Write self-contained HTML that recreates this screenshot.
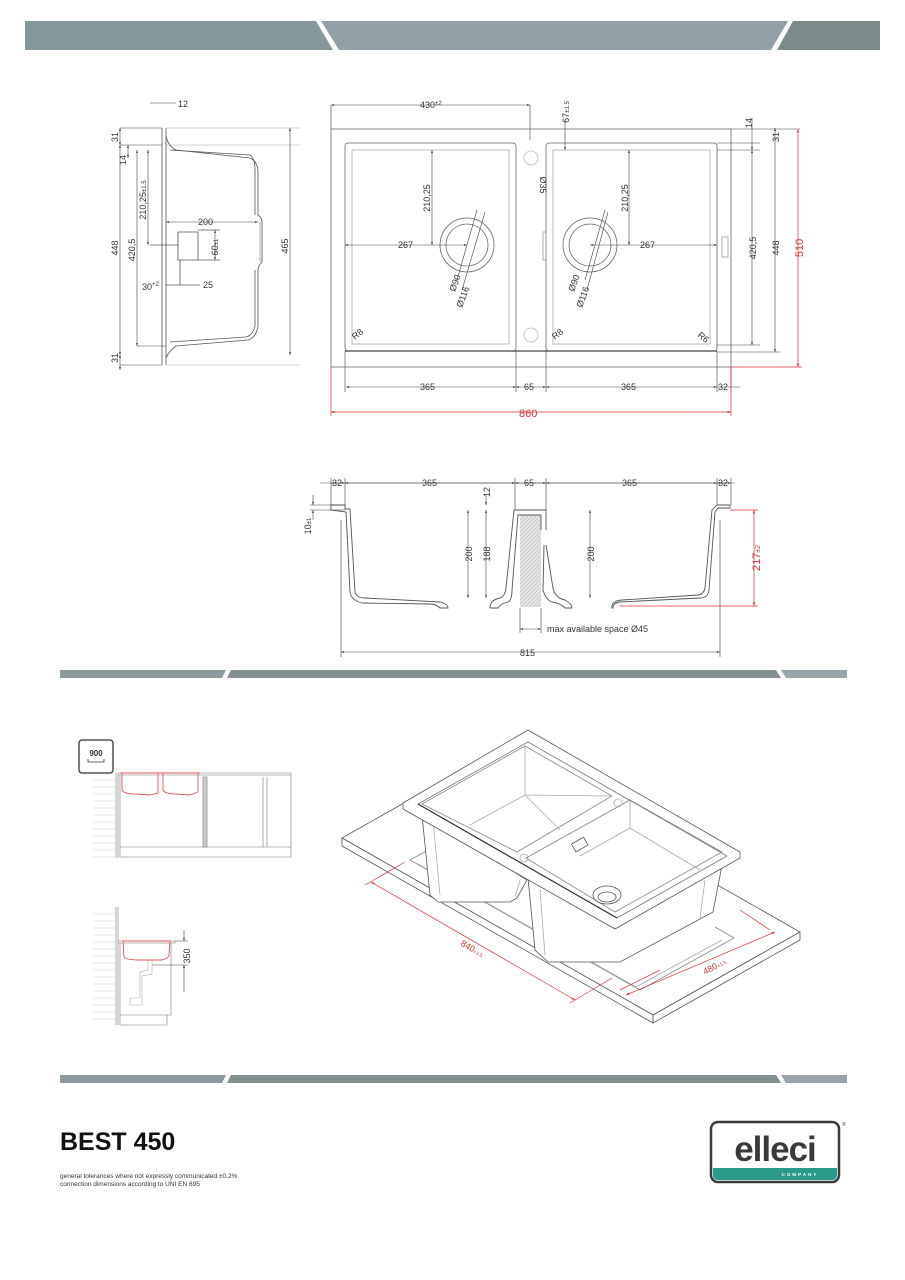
<!DOCTYPE html>
<html><head><meta charset="utf-8"><style>
html,body{margin:0;padding:0;background:#fff}
svg{display:block}
text{font-family:"Liberation Sans",sans-serif;fill:#333}
</style></head><body>
<svg width="905" height="1280" viewBox="0 0 905 1280" xmlns="http://www.w3.org/2000/svg">
<defs>
<marker id="a" viewBox="0 0 6 6" refX="6" refY="3" markerWidth="5" markerHeight="5" orient="auto-start-reverse"><path d="M0,1 L6,3 L0,5z" fill="#444"/></marker>
<marker id="r" viewBox="0 0 6 6" refX="6" refY="3" markerWidth="5" markerHeight="5" orient="auto-start-reverse"><path d="M0,1 L6,3 L0,5z" fill="#d33"/></marker>
<pattern id="h" width="4" height="4" patternUnits="userSpaceOnUse"><rect width="4" height="4" fill="#e4e4e4"/><path d="M0,4 L4,0" stroke="#bbb" stroke-width=".6"/></pattern>
</defs>

<polygon points="25,21 316,21 333,50 25,50" fill="#84979b"/>
<polygon points="321,21 788,21 771,50 339,50" fill="#929fa6"/>
<polygon points="793,21 880,21 880,50 777,50" fill="#7a8b8a"/>

<polygon points="60,670 226,670 222,678 60,678" fill="#8c999d"/>
<polygon points="231,670 776,670 781,678 227,678" fill="#818f91"/>
<polygon points="781,670 847,670 847,678 786,678" fill="#98a4aa"/>
<polygon points="60,1075 226,1075 222,1083 60,1083" fill="#8c999d"/>
<polygon points="231,1075 776,1075 781,1083 227,1083" fill="#818f91"/>
<polygon points="781,1075 847,1075 847,1083 786,1083" fill="#98a4aa"/>

<g fill="none" stroke="#555" stroke-width="0.8">
<path d="M162,128 L162,365 M166,128 L166,365"/>
<path d="M166,136 Q168,146 176,150 L250,158 Q258,162 258,172 L258,215 Q262,218 262,222 L262,262 Q258,266 258,270 L258,326 Q256,338 248,340 L176,346 Q168,352 166,358"/>
<path d="M170,150 L250,155 Q255,158 255,170 L255,215 M255,270 L255,326 Q253,335 246,337 L170,342"/>
<path d="M260,222 L260,262" stroke="#999"/>
<path d="M166,128 L300,128 M166,145 L300,145 M166,365 L300,365" stroke="#aaa" stroke-width="0.5"/>
<path d="M178,232 L198,232 L198,260 L178,260 Z M150,245 L178,245 M198,230 L220,230 M198,260 L220,260 M180,260 L180,285 M166,285 L200,285"/>
<g stroke="#444" stroke-width="0.6">
<line x1="120" y1="128" x2="120" y2="145" marker-start="url(#a)" marker-end="url(#a)"/>
<line x1="120" y1="145" x2="120" y2="355" marker-start="url(#a)" marker-end="url(#a)"/>
<line x1="120" y1="355" x2="120" y2="370" marker-start="url(#a)" marker-end="url(#a)"/>
<line x1="128" y1="145" x2="128" y2="158" marker-start="url(#a)" marker-end="url(#a)"/>
<line x1="137" y1="150" x2="137" y2="346" marker-start="url(#a)" marker-end="url(#a)"/>
<line x1="148" y1="150" x2="148" y2="245" marker-start="url(#a)" marker-end="url(#a)"/>
<line x1="166" y1="222" x2="258" y2="222" marker-start="url(#a)" marker-end="url(#a)"/>
<line x1="215" y1="230" x2="215" y2="260" marker-start="url(#a)" marker-end="url(#a)"/>
<line x1="290" y1="128" x2="290" y2="355" marker-start="url(#a)" marker-end="url(#a)"/>
<line x1="150" y1="103" x2="176" y2="103"/>
<path d="M120,128 L162,128 M120,145 L162,145 M120,365 L162,365 M137,346 L166,346"/>
</g>
</g>
<g font-size="9">
<text x="178" y="107">12</text>
<text transform="translate(118,137) rotate(-90)" text-anchor="middle">31</text>
<text transform="translate(126,160) rotate(-90)" text-anchor="middle">14</text>
<text transform="translate(118,248) rotate(-90)" text-anchor="middle">448</text>
<text transform="translate(135,250) rotate(-90)" text-anchor="middle">420,5</text>
<text transform="translate(146,200) rotate(-90)" text-anchor="middle">210,25<tspan font-size="6">±1.5</tspan></text>
<text x="198" y="225">200</text>
<text transform="translate(218,247) rotate(-90)" text-anchor="middle">60<tspan font-size="6">±1</tspan></text>
<text x="142" y="290">30<tspan font-size="6" dy="-4">+2</tspan></text>
<text x="203" y="288">25</text>
<text transform="translate(118,358) rotate(-90)" text-anchor="middle">31</text>
<text transform="translate(288,246) rotate(-90)" text-anchor="middle">465</text>
</g>

<g fill="none" stroke="#666" stroke-width="0.8">
<rect x="331" y="129" width="400" height="238"/>
<rect x="345" y="143" width="171" height="208" rx="3"/>
<rect x="352" y="150" width="157" height="194" stroke="#aaa"/>
<rect x="546" y="143" width="171" height="208" rx="3"/>
<rect x="553" y="150" width="157" height="194" stroke="#aaa"/>
<circle cx="467" cy="245" r="27"/><circle cx="467" cy="245" r="21"/>
<circle cx="590" cy="245" r="27"/><circle cx="590" cy="245" r="21"/>
<circle cx="531" cy="158" r="7" stroke="#bbb"/><circle cx="531" cy="335" r="7" stroke="#bbb"/>
<rect x="543" y="232" width="3" height="28" stroke="#999"/>
<rect x="722" y="237" width="6" height="20" stroke="#999"/>
<line x1="345" y1="351" x2="717" y2="351" stroke="#444" stroke-width="1.2"/>
</g>
<g stroke="#444" stroke-width="0.6" fill="none">
<line x1="331" y1="105" x2="530" y2="105" marker-start="url(#a)" marker-end="url(#a)"/>
<path d="M331,105 L331,129 M530,105 L530,140"/>
<line x1="432" y1="150" x2="432" y2="245" marker-start="url(#a)" marker-end="url(#a)"/>
<line x1="345" y1="245" x2="467" y2="245" marker-start="url(#a)" marker-end="url(#a)"/>
<line x1="629" y1="150" x2="629" y2="245" marker-start="url(#a)" marker-end="url(#a)"/>
<line x1="590" y1="245" x2="717" y2="245" marker-start="url(#a)" marker-end="url(#a)"/>
<line x1="477" y1="210" x2="457" y2="280"/><line x1="485" y1="212" x2="462" y2="290"/>
<line x1="605" y1="210" x2="585" y2="280"/><line x1="608" y1="212" x2="587" y2="290"/>
<line x1="565" y1="150" x2="565" y2="120" marker-start="url(#a)"/>
<line x1="346" y1="387" x2="516" y2="387" marker-start="url(#a)" marker-end="url(#a)"/>
<line x1="516" y1="387" x2="546" y2="387" marker-start="url(#a)" marker-end="url(#a)"/>
<line x1="546" y1="387" x2="717" y2="387" marker-start="url(#a)" marker-end="url(#a)"/>
<line x1="717" y1="387" x2="740" y2="387"/>
<path d="M345,351 L345,392 M516,351 L516,392 M546,351 L546,392 M717,351 L717,392 M731,367 L731,392"/>
<line x1="752" y1="150" x2="752" y2="345" marker-start="url(#a)" marker-end="url(#a)"/>
<line x1="752" y1="118" x2="752" y2="150" marker-end="url(#a)"/>
<line x1="775" y1="128" x2="775" y2="352" marker-start="url(#a)" marker-end="url(#a)"/>
<path d="M717,150 L760,150 M717,143 L760,143 M731,129 L800,129 M717,352 L780,352 M717,345 L760,345"/>
</g>
<g stroke="#d33" stroke-width="0.7" fill="none">
<line x1="331" y1="412" x2="731" y2="412" marker-start="url(#r)" marker-end="url(#r)"/>
<path d="M331,367 L331,416 M731,367 L731,416 M731,367 L802,367"/>
<line x1="798" y1="129" x2="798" y2="367" marker-start="url(#r)" marker-end="url(#r)"/>
</g>
<g font-size="9">
<text x="420" y="108">430<tspan font-size="6" dy="-3">±2</tspan></text>
<text transform="translate(569,112) rotate(-90)" text-anchor="middle">67<tspan font-size="6">±1.5</tspan></text>
<text transform="translate(540,185) rotate(90)" text-anchor="middle">Ø35</text>
<text transform="translate(430,198) rotate(-90)" text-anchor="middle">210,25</text>
<text transform="translate(628,198) rotate(-90)" text-anchor="middle">210,25</text>
<text x="398" y="248">267</text><text x="640" y="248">267</text>
<text transform="translate(455,292) rotate(-70)">Ø90</text>
<text transform="translate(462,308) rotate(-70)">Ø116</text>
<text transform="translate(574,292) rotate(-70)">Ø90</text>
<text transform="translate(582,308) rotate(-70)">Ø116</text>
<text transform="translate(355,340) rotate(-40)">R8</text>
<text transform="translate(555,340) rotate(-40)">R8</text>
<text transform="translate(697,336) rotate(40)">R6</text>
<text x="420" y="390">365</text><text x="524" y="390">65</text><text x="621" y="390">365</text><text x="718" y="390">32</text>
<text transform="translate(752,123) rotate(-90)" text-anchor="middle">14</text>
<text transform="translate(779,137) rotate(-90)" text-anchor="middle">31</text>
<text transform="translate(756,248) rotate(-90)" text-anchor="middle">420,5</text>
<text transform="translate(779,248) rotate(-90)" text-anchor="middle">448</text>
<text x="519" y="417" font-size="11" style="fill:#d33">860</text>
<text transform="translate(803,248) rotate(-90)" text-anchor="middle" font-size="11" style="fill:#d33">510</text>
</g>

<rect x="520" y="515" width="21" height="92" fill="url(#h)"/>
<g fill="none" stroke="#555" stroke-width="0.9">
<path d="M331,505 L345,505 L345,509 L350,509 L355,592 Q357,598 365,598 L440,602 Q448,604 448,608 L440,608 Q436,604 430,604 L362,603 Q351,600 350,592 L346,512 L331,510 Z"/>
<path d="M490,608 Q490,600 500,598 Q505,596 506,588 L514,510 L546,510 L546,530 M546,545 L553,588 Q555,598 565,600 Q572,604 572,608 L565,608 Q560,603 552,602 Q546,600 543,590 L544,545 M490,608 L498,608 Q500,604 508,602 Q512,600 512,590 L518,515 L541,515 L541,530"/>
<path d="M613,608 Q613,603 620,602 L700,598 Q708,598 709,590 L715,512 L718,508 L730,508 L730,505 L717,505 L712,510 L705,588 Q704,594 698,595 L622,600 Q611,601 612,608 Z"/>
</g>
<g stroke="#444" stroke-width="0.6" fill="none">
<line x1="320" y1="483" x2="735" y2="483"/>
<line x1="331" y1="483" x2="345" y2="483" marker-start="url(#a)" marker-end="url(#a)"/>
<line x1="345" y1="483" x2="515" y2="483" marker-start="url(#a)" marker-end="url(#a)"/>
<line x1="515" y1="483" x2="546" y2="483" marker-start="url(#a)" marker-end="url(#a)"/>
<line x1="546" y1="483" x2="717" y2="483" marker-start="url(#a)" marker-end="url(#a)"/>
<line x1="717" y1="483" x2="731" y2="483" marker-start="url(#a)" marker-end="url(#a)"/>
<path d="M331,478 L331,505 M345,478 L345,505 M515,478 L515,510 M546,478 L546,510 M717,478 L717,505 M731,478 L731,505"/>
<path d="M310,505 L345,505 M310,510 L345,510"/>
<line x1="313" y1="495" x2="313" y2="505" marker-end="url(#a)"/>
<line x1="313" y1="520" x2="313" y2="510" marker-end="url(#a)"/>
<line x1="468" y1="510" x2="468" y2="598" marker-start="url(#a)" marker-end="url(#a)"/>
<line x1="486" y1="510" x2="486" y2="598" marker-start="url(#a)" marker-end="url(#a)"/>
<line x1="486" y1="495" x2="486" y2="505" marker-end="url(#a)"/>
<line x1="590" y1="510" x2="590" y2="598" marker-start="url(#a)" marker-end="url(#a)"/>
<line x1="341" y1="652" x2="720" y2="652" marker-start="url(#a)" marker-end="url(#a)"/>
<path d="M341,520 L341,657 M720,520 L720,657 M520,608 L520,633 M541,608 L541,633"/>
<line x1="520" y1="629" x2="541" y2="629" marker-start="url(#a)" marker-end="url(#a)"/>
</g>
<g stroke="#d33" stroke-width="0.7" fill="none">
<line x1="754" y1="510" x2="754" y2="606" marker-start="url(#r)" marker-end="url(#r)"/>
<path d="M730,510 L758,510 M620,606 L758,606"/>
</g>
<g font-size="9">
<text x="332" y="486">32</text><text x="422" y="486">365</text><text x="524" y="486">65</text><text x="622" y="486">365</text><text x="718" y="486">32</text>
<text transform="translate(490,492) rotate(-90)" text-anchor="middle">12</text>
<text transform="translate(311,526) rotate(-90)" text-anchor="middle">10<tspan font-size="6">±1</tspan></text>
<text transform="translate(472,554) rotate(-90)" text-anchor="middle">200</text>
<text transform="translate(490,554) rotate(-90)" text-anchor="middle">188</text>
<text transform="translate(594,554) rotate(-90)" text-anchor="middle">200</text>
<text x="547" y="632">max available space Ø45</text>
<text x="520" y="656">815</text>
<text transform="translate(760,558) rotate(-90)" text-anchor="middle" font-size="11" style="fill:#d33">217<tspan font-size="7">±2</tspan></text>
</g>

<rect x="79" y="740" width="34" height="33" rx="3" fill="none" stroke="#333" stroke-width="1.3"/>
<text x="96" y="756" font-size="8" font-weight="bold" text-anchor="middle">900</text>
<path d="M88,759 L88,762 L104,762 L104,759" fill="none" stroke="#333" stroke-width="0.8"/>
<g fill="none" stroke="#777" stroke-width="0.6">
<path d="M116,773 L116,858 M118,773 L118,858"/>
<path d="M93,780 H115 M93,787 H115 M93,794 H115 M93,801 H115 M93,808 H115 M93,815 H115 M93,822 H115 M93,829 H115 M93,836 H115 M93,843 H115 M93,850 H115 M93,857 H115" stroke="#ccc"/>
<path d="M118,773 L291,773 L291,775 L118,775 M120,775 L120,857 M120,847 L291,847 M120,857 L291,857 M291,775 L291,857"/>
<rect x="203" y="777" width="4" height="70" fill="#ccc"/>
<path d="M263,777 V847 M267,777 V847"/>
<path d="M116,907 L116,1025 M118,907 L118,1025"/>
<path d="M93,914 H115 M93,921 H115 M93,928 H115 M93,935 H115 M93,942 H115 M93,949 H115 M93,956 H115 M93,963 H115 M93,970 H115 M93,977 H115 M93,984 H115 M93,991 H115 M93,998 H115 M93,1005 H115 M93,1012 H115 M93,1019 H115" stroke="#ccc"/>
<path d="M118,941 L175,941 L175,943 L118,943 M120,943 L120,1025 M120,1015 L171,1015 L171,943 M120,1025 L167,1025 L167,1015"/>
<path d="M148,960 L148,970 L140,972 L140,998 L130,998 L130,1005 L142,1005 L142,976 L152,974 L152,960" stroke="#aaa"/>
<line x1="184" y1="930" x2="184" y2="941" stroke="#444" marker-end="url(#a)"/>
<line x1="184" y1="992" x2="184" y2="965" stroke="#444" marker-end="url(#a)"/>
<path d="M152,965 L188,965 M175,941 L188,941" stroke="#444"/>
</g>
<g fill="none" stroke="#d55" stroke-width="0.9">
<path d="M122,773 L122,790 Q124,794 135,794 L150,795 L158,793 L158,773 M163,773 L163,790 Q165,794 176,794 L190,795 L198,792 L198,773"/>
<path d="M120,773 L200,773"/>
<path d="M123,941 L124,957 Q126,960 140,960 L162,960 Q169,958 169,955 L170,941 Z"/>
</g>
<text transform="translate(190,956) rotate(-90)" text-anchor="middle" font-size="9">350</text>

<!-- isometric -->
<g stroke="#555" stroke-width="0.8">
<polygon points="342,838 489,755 800,932 653,1015" fill="#fff"/>
<polygon points="342,838 653,1015 653,1023 342,846" fill="#fff"/>
<polygon points="653,1015 800,932 800,940 653,1023" fill="#fff"/>
<polygon points="410,858 432,846 735,1020 713,1032" fill="none" stroke="none"/>
<path d="M410,860 L430,849 M410,860 L640,990 L734,938 L715,927" fill="none" stroke="#888"/>
<path d="M418,864 L636,987 L722,940" fill="none" stroke="#aaa"/>
<polygon points="422,815 430,895 438,902 510,902 517,898 527,880" fill="#fff"/>
<polygon points="528,878 535,950 548,962 613,962 620,962 713,912 722,865" fill="#fff"/>
<path d="M433,820 L440,895 M520,880 L515,897 M540,890 L545,955 M705,880 L700,918" fill="none" stroke="#aaa"/>
<polygon points="403,803 528,730 740,852 740,858 615,929 403,809" fill="#fff"/>
<polygon points="418,804 528,742 727,856 617,918" fill="#fff" stroke="#777"/>
<path d="M422,804 L525,746 L612,796 L517,852 Z" fill="none" stroke="#888"/>
<path d="M526,858 L630,800 L722,852 L615,912 Z" fill="none" stroke="#888"/>
<path d="M470,825 L525,795 L612,796 M525,746 L525,795 M525,795 L560,830" fill="none" stroke="#aaa"/>
<path d="M580,856 L630,828 L700,870 M630,800 L630,828" fill="none" stroke="#aaa"/>
<ellipse cx="607" cy="895" rx="14" ry="9" fill="#fff"/><ellipse cx="607" cy="897" rx="9" ry="5" fill="#fff"/>
<rect x="573" y="840" width="14" height="9" fill="none" transform="rotate(-30 580 845)"/>
<circle cx="618" cy="803" r="4" fill="none" stroke="#aaa"/><circle cx="524" cy="858" r="4" fill="none" stroke="#aaa"/>
<line x1="418" y1="804" x2="617" y2="918" stroke="#333" stroke-width="1.2"/>
</g>
<g stroke="#d33" stroke-width="0.7" fill="none">
<line x1="371" y1="882" x2="575" y2="1000" marker-start="url(#r)" marker-end="url(#r)"/>
<path d="M365,885 L405,862 M570,1003 L612,978"/>
<line x1="626" y1="995" x2="775" y2="932" marker-start="url(#r)" marker-end="url(#r)"/>
<path d="M620,990 L660,970 M770,930 L740,910"/>
</g>
<text transform="translate(460,945) rotate(30)" font-size="9" style="fill:#d33">840<tspan font-size="5">+1.5</tspan></text>
<text transform="translate(705,975) rotate(-28)" font-size="9" style="fill:#d33">480<tspan font-size="5">+1.5</tspan></text>

<text x="60" y="1150" font-size="25" font-weight="bold" style="fill:#111">BEST 450</text>
<text x="60" y="1178" font-size="6.5">general tolerances where not expressly communicated ±0.2%</text>
<text x="60" y="1186" font-size="6.5">connection dimensions according to UNI EN 695</text>
<rect x="711" y="1122" width="128" height="60" rx="7" fill="#fff" stroke="#3a3a3a" stroke-width="2.5"/>
<path d="M713,1168 H837 V1175 Q837,1180 832,1180 H718 Q713,1180 713,1175 Z" fill="#2a9a8a"/>
<text x="775" y="1161" font-size="35" font-weight="bold" text-anchor="middle" style="fill:#3a3a3a;letter-spacing:-1px">elleci</text>
<text x="800" y="1176" font-size="4.5" font-weight="bold" text-anchor="middle" style="fill:#fff;letter-spacing:2px">COMPANY</text>
<text x="842" y="1126" font-size="5">®</text>
</svg>
</body></html>
